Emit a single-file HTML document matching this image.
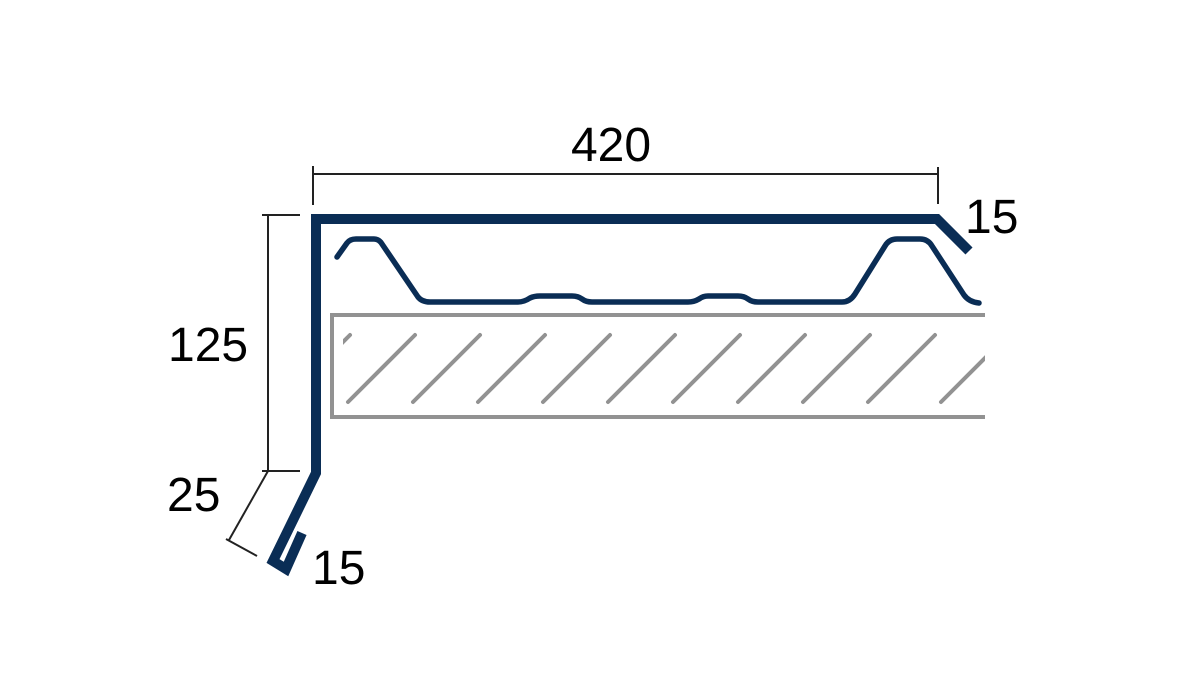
<!DOCTYPE html>
<html><head><meta charset="utf-8"><style>
html,body{margin:0;padding:0;background:#fff;}
svg{display:block;}
text{font-family:"Liberation Sans",sans-serif;font-size:48px;fill:#000;}
</style></head><body>
<svg width="1200" height="680" viewBox="0 0 1200 680">
<defs><clipPath id="c"><rect x="343" y="330" width="642" height="75"/></clipPath></defs>
<g stroke="#222" stroke-width="2" fill="none">
<line x1="313" y1="174" x2="938" y2="174"/>
<line x1="313" y1="166" x2="313" y2="205"/>
<line x1="938" y1="167" x2="938" y2="204"/>
<line x1="268" y1="215" x2="268" y2="471"/>
<line x1="262" y1="215" x2="300" y2="215"/>
<line x1="262" y1="471" x2="300" y2="471"/>
<line x1="268" y1="471" x2="229" y2="540"/>
<line x1="226" y1="539" x2="257" y2="556"/>
</g>
<g stroke="#929292" stroke-width="4" fill="none">
<polyline points="985,315 332,315 332,417 985,417"/>
<g clip-path="url(#c)" stroke-linecap="round">
<line x1="283" y1="402" x2="350" y2="335"/>
<line x1="348" y1="402" x2="415" y2="335"/>
<line x1="413" y1="402" x2="480" y2="335"/>
<line x1="478" y1="402" x2="545" y2="335"/>
<line x1="543" y1="402" x2="610" y2="335"/>
<line x1="608" y1="402" x2="675" y2="335"/>
<line x1="673" y1="402" x2="740" y2="335"/>
<line x1="738" y1="402" x2="805" y2="335"/>
<line x1="803" y1="402" x2="870" y2="335"/>
<line x1="868" y1="402" x2="935" y2="335"/>
<line x1="941" y1="402" x2="1008" y2="335"/>
</g>
</g>
<path d="M337,257 L347,243 Q350,239 356,239 L374,239 Q379,239 382,244 L418,297 Q422,302 430,302 L518,302 Q524,302 530,298 Q534,296 540,296 L572,296 Q578,296 582,299 Q586,302 592,302 L688,302 Q694,302 699,299 Q703,296 708,296 L738,296 Q744,296 748,299 Q752,302 758,302 L842,302 Q850,302 855,294 L885,246 Q889,239 897,239 L920,239 Q928,239 932,246 L964,295 Q969,302 979,303" fill="none" stroke="#0a2d55" stroke-width="5.5" stroke-linecap="round" stroke-linejoin="round"/>
<polyline points="969,251 937,219 316,219 316,473 273,561 286,569 302,533" fill="none" stroke="#0a2d55" stroke-width="10" stroke-linejoin="miter"/>
<text x="611" y="161" text-anchor="middle">420</text>
<text x="965" y="233">15</text>
<text x="168" y="361">125</text>
<text x="167" y="511">25</text>
<text x="312" y="584">15</text>
</svg>
</body></html>
